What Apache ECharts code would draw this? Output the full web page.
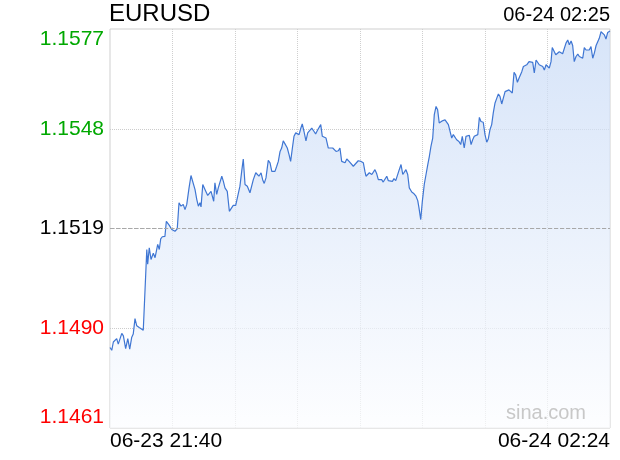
<!DOCTYPE html>
<html><head><meta charset="utf-8">
<script src="https://cdn.jsdelivr.net/npm/echarts@6/dist/echarts.min.js"></script>
<style>html,body{margin:0;padding:0;background:#fff}#c{width:620px;height:460px}</style>
</head><body><div id="c"></div>
<script>
const symbol = 'EURUSD';
const updateTime = '06-24 02:25';
const xTickLabels = ['06-23 21:40', '06-24 02:24'];
const xMaxMinute = 284;
const yTickLabels = ['1.1461', '1.1490', '1.1519', '1.1548', '1.1577'];
const yTickColors = ['#ff0000', '#ff0000', '#000000', '#00a800', '#00a800'];
const yMin = 1.1461, yMax = 1.1577;
const prevClose = 1.1519;
const watermark = 'sina.com';

// minutes since 06-23 21:40
const minutes = [0.0,1.0,1.9,3.8,4.7,6.7,7.6,8.9,10.1,11.2,12.3,13.2,14.2,15.2,16.6,18.9,20.9,21.4,22.3,23.3,24.6,25.6,27.1,28.0,28.8,29.7,31.2,32.0,33.7,35.1,36.0,36.9,38.2,39.2,40.3,41.6,42.6,43.6,44.9,46.0,47.0,48.3,49.3,50.2,51.1,51.7,52.7,54.0,55.5,56.2,57.4,58.1,58.9,59.6,60.6,61.5,62.5,63.5,64.4,65.3,66.6,67.8,68.7,70.0,71.4,72.5,73.8,74.8,75.7,76.7,78.0,79.5,80.5,81.4,82.8,83.9,84.6,85.8,86.7,87.6,88.6,89.9,90.9,91.9,93.0,93.7,94.7,95.6,96.6,97.5,98.4,99.4,100.7,101.7,102.6,103.6,104.5,105.5,106.6,107.4,108.3,109.2,110.2,111.3,112.3,113.2,114.6,115.9,116.8,118.0,118.9,119.7,120.6,121.6,122.7,124.0,125.0,126.5,127.4,128.4,129.7,130.6,131.6,132.5,133.5,134.5,135.8,136.9,138.2,139.2,141.0,142.6,143.9,144.8,145.4,146.4,147.3,148.7,149.6,150.5,151.5,152.4,153.4,154.3,155.2,156.2,157.2,158.1,159.0,160.4,161.3,162.3,163.4,164.3,165.3,166.3,167.2,168.1,169.1,170.0,171.4,172.7,173.8,174.8,175.5,176.5,177.4,178.5,179.5,180.5,181.4,182.3,183.3,184.2,185.2,186.1,187.0,188.8,190.3,191.3,192.2,193.1,194.1,195.0,196.0,196.9,198.2,199.2,200.1,201.2,202.2,203.2,204.1,205.1,206.0,206.9,207.9,208.9,209.8,210.7,212.0,213.0,214.0,214.9,215.8,216.8,217.7,218.7,219.7,220.6,221.5,222.5,223.4,224.4,225.3,226.6,227.6,228.5,229.5,230.4,231.4,232.3,232.9,233.9,234.8,235.7,236.7,238.0,239.1,240.1,241.0,242.0,242.9,243.8,244.8,245.8,246.7,247.7,248.6,249.5,250.5,251.2,252.2,253.2,254.1,255.2,256.2,257.1,258.0,259.0,260.0,260.9,261.9,262.8,263.7,264.7,265.7,266.6,267.5,268.5,269.4,270.4,271.3,272.2,273.2,274.2,275.1,276.1,277.0,277.9,278.9,279.9,280.8,281.7,282.7,284.0];

const prices = [1.14844,1.14836,1.14860,1.14870,1.14854,1.14885,1.14878,1.14841,1.14870,1.14839,1.14873,1.14883,1.14928,1.14907,1.14902,1.14894,1.15129,1.15086,1.15134,1.15100,1.15118,1.15105,1.15144,1.15129,1.15160,1.15166,1.15167,1.15211,1.15199,1.15187,1.15192,1.15182,1.15189,1.15265,1.15255,1.15260,1.15245,1.15260,1.15308,1.15344,1.15342,1.15303,1.15274,1.15255,1.15265,1.15253,1.15318,1.15303,1.15286,1.15282,1.15298,1.15303,1.15269,1.15323,1.15289,1.15308,1.15313,1.15342,1.15327,1.15308,1.15298,1.15240,1.15247,1.15257,1.15257,1.15253,1.15313,1.15356,1.15392,1.15318,1.15313,1.15294,1.15298,1.15332,1.15352,1.15347,1.15342,1.15352,1.15332,1.15321,1.15337,1.15388,1.15381,1.15356,1.15361,1.15356,1.15371,1.15385,1.15414,1.15424,1.15445,1.15436,1.15424,1.15405,1.15385,1.15424,1.15458,1.15468,1.15472,1.15463,1.15480,1.15494,1.15472,1.15445,1.15468,1.15463,1.15482,1.15472,1.15465,1.15477,1.15482,1.15492,1.15458,1.15463,1.15453,1.15424,1.15426,1.15424,1.15419,1.15414,1.15416,1.15424,1.15385,1.15390,1.15381,1.15392,1.15385,1.15381,1.15371,1.15376,1.15387,1.15385,1.15381,1.15356,1.15342,1.15347,1.15352,1.15347,1.15352,1.15361,1.15349,1.15332,1.15329,1.15332,1.15325,1.15320,1.15342,1.15329,1.15325,1.15327,1.15335,1.15329,1.15332,1.15361,1.15376,1.15347,1.15352,1.15361,1.15347,1.15308,1.15296,1.15291,1.15284,1.15271,1.15250,1.15216,1.15269,1.15318,1.15347,1.15376,1.15400,1.15429,1.15453,1.15521,1.15545,1.15535,1.15497,1.15503,1.15506,1.15511,1.15492,1.15487,1.15453,1.15463,1.15460,1.15448,1.15443,1.15434,1.15458,1.15424,1.15458,1.15455,1.15461,1.15434,1.15448,1.15458,1.15455,1.15463,1.15513,1.15501,1.15499,1.15463,1.15441,1.15451,1.15477,1.15492,1.15526,1.15555,1.15569,1.15581,1.15574,1.15552,1.15569,1.15588,1.15593,1.15593,1.15588,1.15584,1.15644,1.15637,1.15615,1.15627,1.15632,1.15646,1.15661,1.15656,1.15666,1.15675,1.15673,1.15673,1.15642,1.15680,1.15675,1.15666,1.15671,1.15661,1.15651,1.15666,1.15661,1.15656,1.15675,1.15716,1.15716,1.15695,1.15700,1.15704,1.15700,1.15698,1.15695,1.15729,1.15738,1.15724,1.15735,1.15722,1.15675,1.15690,1.15697,1.15690,1.15685,1.15685,1.15716,1.15709,1.15714,1.15709,1.15719,1.15685,1.15700,1.15722,1.15726,1.15743,1.15762,1.15760,1.15753,1.15741,1.15760,1.15764];

const FONT = '"Liberation Sans", Arial, Helvetica, sans-serif';
const chart = echarts.init(document.getElementById('c'), null, { renderer: 'canvas' });
const seriesData = minutes.map((m, i) => [m, prices[i]]);

const option = {
  animation: false,
  backgroundColor: '#ffffff',
  title: [
    { text: symbol, left: 109, top: 2, padding: 0,
      textStyle: { fontFamily: FONT, fontSize: 24, fontWeight: 'normal', color: '#000' } },
    { text: updateTime, right: 10, top: 5, padding: 0,
      textStyle: { fontFamily: FONT, fontSize: 20, fontWeight: 'normal', color: '#000' } }
  ],
  grid: { left: 110, right: 10, top: 29, bottom: 32, show: true,
    borderColor: '#cfcfcf', borderWidth: 1, backgroundColor: 'transparent', containLabel: false },
  xAxis: {
    type: 'value', min: 0, max: xMaxMinute, interval: xMaxMinute / 8,
    axisLine: { show: false }, axisTick: { show: false },
    splitLine: { show: true, showMinLine: false, showMaxLine: false,
      lineStyle: { type: 'dotted', color: '#cfcfcf', width: 1 } },
    axisLabel: {
      show: true, showMinLabel: true, showMaxLabel: true,
      alignMinLabel: 'left', alignMaxLabel: 'right',
      margin: 3, fontFamily: FONT, fontSize: 21, color: '#000',
      formatter: (v) => v === 0 ? xTickLabels[0] : (v === xMaxMinute ? xTickLabels[1] : '')
    }
  },
  yAxis: [
    { type: 'value', min: yMin, max: yMax, show: false, splitLine: { show: false } },
    { type: 'value', min: 0, max: yTickLabels.length - 1, interval: 1, position: 'left',
      axisLine: { show: false }, axisTick: { show: false },
      splitLine: { show: true, showMinLine: false, showMaxLine: false,
        lineStyle: { type: 'dotted', color: '#cccccc', width: 1 } },
      axisLabel: { margin: 6, fontFamily: FONT, fontSize: 21,
        verticalAlignMinLabel: 'bottom', verticalAlignMaxLabel: 'top',
        formatter: (v) => yTickLabels[v],
        color: (v, i) => yTickColors[Math.round(Number(v))] } }
  ],
  graphic: [
    { type: 'text', right: 34, top: 403, z: 10, silent: true,
      style: { text: watermark, fontFamily: FONT, fontSize: 20, fill: '#c8c8c8' } }
  ],
  series: [{
    type: 'line', xAxisIndex: 0, yAxisIndex: 0, data: seriesData,
    showSymbol: false, symbol: 'none', smooth: false,
    lineStyle: { color: '#3f76d3', width: 1.2 },
    areaStyle: { color: new echarts.graphic.LinearGradient(0, 0, 0, 1, [
      { offset: 0, color: '#c6d9f6' }, { offset: 1, color: '#fcfdff' }]) },
    markLine: { silent: true, symbol: 'none', precision: 5, label: { show: false },
      lineStyle: { type: [4, 2], color: '#a8a8a8', width: 1 },
      data: [{ yAxis: prevClose }] }
  }]
};
chart.setOption(option);
</script></body></html>
